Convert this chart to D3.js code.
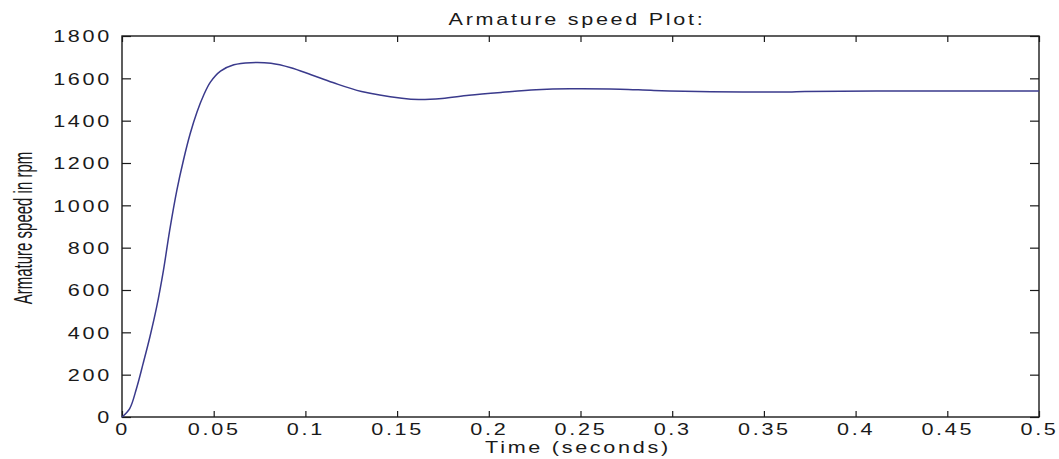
<!DOCTYPE html>
<html>
<head>
<meta charset="utf-8">
<script src="https://cdn.jsdelivr.net/npm/d3@7"></script>
<style>
  html, body { margin: 0; padding: 0; background: #fff; }
  svg { display: block; }
</style>
</head>
<body>
<script>
// ---- data ----
const timeSec = [0, 0.0042, 0.0079, 0.0115, 0.0152, 0.0189, 0.0226, 0.026, 0.0299, 0.0335,
  0.0372, 0.0409, 0.0445, 0.0482, 0.0537, 0.061, 0.0702, 0.0812, 0.0921, 0.1031,
  0.115, 0.1306, 0.1526, 0.1618, 0.1745, 0.1892, 0.2075, 0.2258, 0.2442, 0.2716,
  0.29, 0.3211, 0.363, 0.3724, 0.43, 0.5];
const speedRpm = [0, 40, 135, 252, 378, 520, 693, 882, 1071, 1213,
  1339, 1441, 1520, 1582, 1634, 1664, 1674, 1671, 1650, 1617,
  1580, 1538, 1506, 1500, 1505, 1520, 1534, 1546, 1551, 1549,
  1543, 1537, 1536, 1538, 1540, 1540];
const xTicks = [0, 0.05, 0.1, 0.15, 0.2, 0.25, 0.3, 0.35, 0.4, 0.45, 0.5];
const xTickLabels = ["0", "0.05", "0.1", "0.15", "0.2", "0.25", "0.3", "0.35", "0.4", "0.45", "0.5"];
const yTicks = [0, 200, 400, 600, 800, 1000, 1200, 1400, 1600, 1800];
const yTickLabels = ["0", "200", "400", "600", "800", "1000", "1200", "1400", "1600", "1800"];
const titleText = "Armature speed Plot:";
const xLabelText = "Time (seconds)";
const yLabelText = "Armature speed in rpm";

// ---- layout ----
const W = 1059, H = 459;
const L = 122, R = 1039, T = 36, B = 417;
const SX = 1.35;      // horizontal stretch of text in the reference
const LS = "2px";     // extra letter spacing (before stretch)
const FONT = "'Liberation Sans', Arial, sans-serif";
const INK = "#1a1a1a";

const svg = d3.select("body").append("svg").attr("width", W).attr("height", H)
  .style("background", "#fff");

const x = d3.scaleLinear().domain([0, 0.5]).range([L, R]);
const y = d3.scaleLinear().domain([0, 1800]).range([B, T]);

function stretchText(sel) {
  sel.each(function () {
    const t = d3.select(this);
    const ax = +(t.attr("x") || 0);
    t.attr("transform", `translate(${ax},0) scale(${SX},1) translate(${-ax},0)`)
      .style("letter-spacing", LS);
  });
}

function styleAxis(g) {
  g.select(".domain").remove();
  g.selectAll(".tick line").attr("stroke", INK).attr("stroke-width", 1.2);
  g.selectAll("text").attr("fill", INK).style("font-family", FONT).style("font-size", "16px");
}

// bottom axis
const gx = svg.append("g").attr("transform", `translate(0,${B})`)
  .call(d3.axisBottom(x).tickValues(xTicks).tickFormat((d, i) => xTickLabels[i])
    .tickSizeInner(-6).tickSizeOuter(0).tickPadding(7));
styleAxis(gx);
stretchText(gx.selectAll("text"));

// top axis (ticks only)
const gxt = svg.append("g").attr("transform", `translate(0,${T})`)
  .call(d3.axisTop(x).tickValues(xTicks).tickFormat("").tickSizeInner(-6).tickSizeOuter(0));
styleAxis(gxt);

// left axis
const gy = svg.append("g").attr("transform", `translate(${L},0)`)
  .call(d3.axisLeft(y).tickValues(yTicks).tickFormat((d, i) => yTickLabels[i])
    .tickSizeInner(-9).tickSizeOuter(0).tickPadding(10));
styleAxis(gy);
gy.selectAll("text").attr("dy", "0.36em");
stretchText(gy.selectAll("text"));

// right axis (ticks only)
const gyr = svg.append("g").attr("transform", `translate(${R},0)`)
  .call(d3.axisRight(y).tickValues(yTicks).tickFormat("").tickSizeInner(-9).tickSizeOuter(0));
styleAxis(gyr);

// box
svg.append("rect").attr("x", L).attr("y", T).attr("width", R - L).attr("height", B - T)
  .attr("fill", "none").attr("stroke", INK).attr("stroke-width", 1.4);

// curve
const pts = timeSec.map((t, i) => [t, speedRpm[i]]);
const line = d3.line().x(d => x(d[0])).y(d => y(d[1])).curve(d3.curveCatmullRom.alpha(0.5));
svg.append("path").datum(pts).attr("d", line)
  .attr("fill", "none").attr("stroke", "#3a3a8c").attr("stroke-width", 1.5);

// title
const tx = 577;
svg.append("text").attr("x", tx).attr("y", 25).attr("text-anchor", "middle")
  .attr("transform", `translate(${tx},0) scale(${SX},1) translate(${-tx},0)`)
  .style("letter-spacing", LS)
  .style("font-family", FONT).style("font-size", "16px").attr("fill", INK)
  .text(titleText);

// x label
const lx = 578;
svg.append("text").attr("x", lx).attr("y", 453).attr("text-anchor", "middle")
  .attr("transform", `translate(${lx},0) scale(${SX},1) translate(${-lx},0)`)
  .style("letter-spacing", LS)
  .style("font-family", FONT).style("font-size", "16px").attr("fill", INK)
  .text(xLabelText);

// y label
svg.append("text").attr("text-anchor", "middle")
  .attr("transform", `translate(32,228) rotate(-90) scale(1,1.75)`)
  .style("font-family", FONT).style("font-size", "15px").attr("fill", INK)
  .text(yLabelText);
</script>
</body>
</html>
